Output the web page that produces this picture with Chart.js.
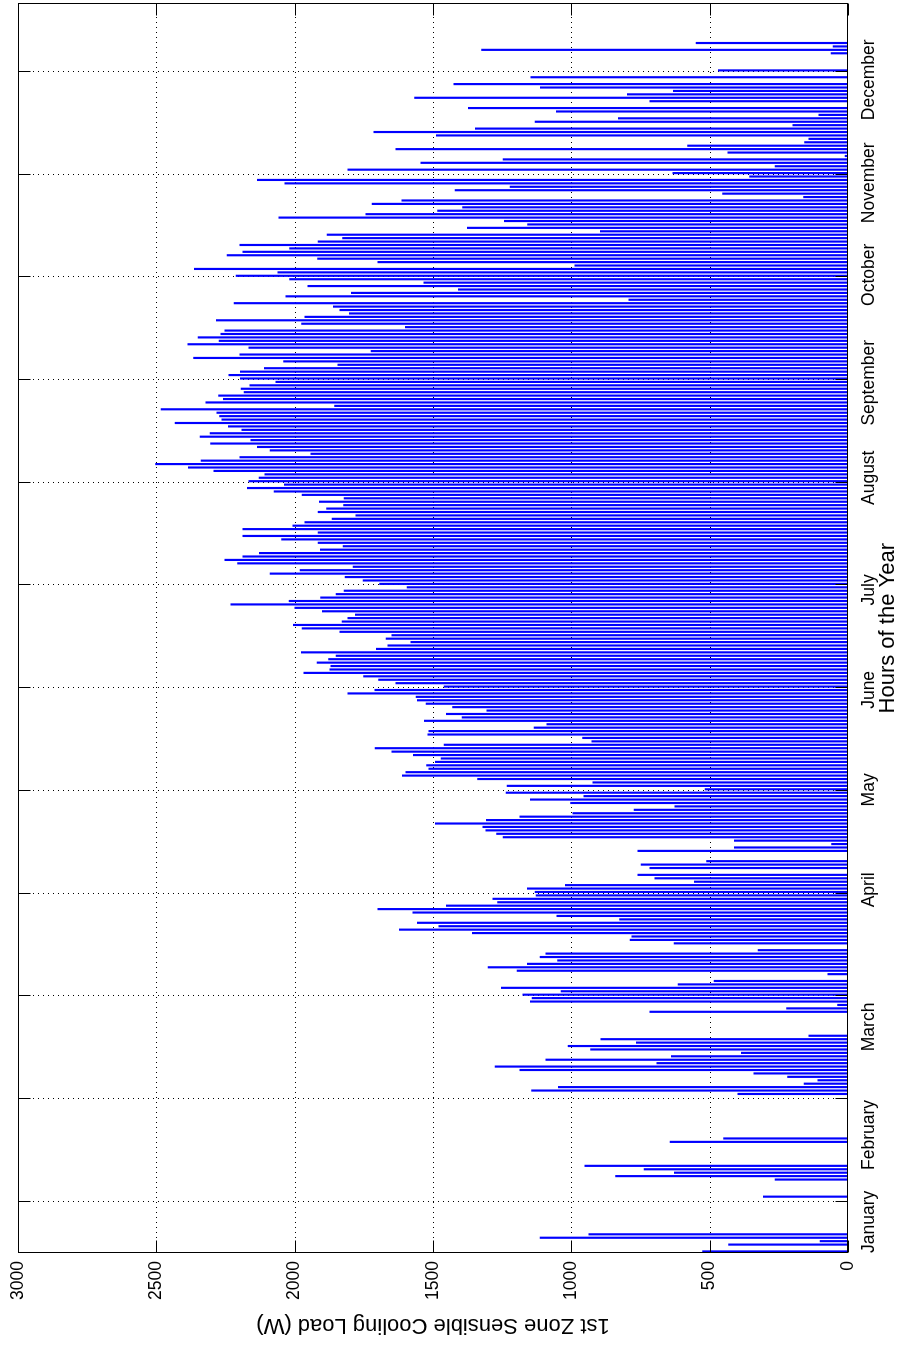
<!DOCTYPE html>
<html><head><meta charset="utf-8">
<script src="https://cdn.jsdelivr.net/npm/chart.js@4.4.0/dist/chart.umd.min.js"></script>
<style>
html,body{margin:0;padding:0;background:#fff;overflow:hidden;}
body{width:899px;height:1346px;position:relative;}
#wrap{position:absolute;left:0;top:0;width:1346px;height:899px;transform-origin:0 0;transform:translate(0,1346px) rotate(-90deg);}
canvas{display:block;}
</style></head><body>
<div id="wrap"><canvas id="c" width="1346" height="899"></canvas></div>
<script>
// daily peak sensible cooling load (W), day 0 = 1 January
const dailyLoad = [
526,0,432,101,1113,937,0,0,0,0,
0,0,0,0,0,0,306,0,0,0,
0,264,840,628,737,951,0,0,0,0,
0,0,643,450,0,0,0,0,0,0,
0,0,0,0,0,0,398,1144,1047,159,
109,218,340,1186,1276,691,1092,639,386,930,
1012,765,893,142,0,0,0,0,0,0,
716,222,38,1148,1142,1175,1037,1253,614,484,
0,73,1196,1301,1159,1050,1113,1092,325,0,
629,788,781,1358,1622,1479,1557,826,1052,1573,
1699,1452,1267,1284,1127,1131,1159,1022,555,698,
760,0,716,748,511,0,0,760,411,59,
411,1247,1270,1309,1320,1492,1307,1186,995,773,
626,1003,1148,955,1236,517,1232,922,1339,1611,
1598,1515,1523,1492,1471,1571,1649,1709,1460,926,
959,1519,1515,1135,1089,1531,1395,1452,1305,1429,
1525,1557,1561,1808,1710,1460,1634,1697,1751,1967,
1873,1869,1919,1877,1850,1976,1705,1663,1580,1670,
1649,1837,1973,2005,1829,1808,1781,1900,1999,2231,
2020,1906,1850,1821,1594,1693,1753,1818,2089,1980,
1789,2206,2252,2187,2128,1907,1825,1915,2047,2187,
1915,2187,2007,1963,1865,1779,1915,1885,1823,1911,
1821,1973,2074,2171,2037,2166,2129,2108,2292,2384,
2503,2338,2198,1942,2089,2135,2304,2158,2342,2306,
2191,2240,2432,2263,2271,2281,2483,1856,2321,2258,
2275,2183,2194,2162,2068,2196,2238,2196,2110,1844,
2040,2365,2198,1724,2166,2386,2273,2349,2267,2252,
1600,1975,2283,1963,1802,1837,1860,2219,792,2032,
1795,1408,1952,1533,2018,2212,2061,2363,987,1699,
1917,2244,2187,2018,2198,1915,1827,1883,895,1376,
1158,1242,2057,1743,1483,1393,1720,1613,161,453,
1420,1221,2036,2135,356,633,1808,264,1544,1247,
11,434,1634,580,157,142,1488,1714,1347,199,
1131,830,105,1054,1372,0,716,1567,798,631,
1112,1425,0,1146,0,469,0,0,0,0,
61,1324,54,549,0,0,0,0,0,0,
0,0,0,0,0
];
const peakHourOfDay = 11;
const hoursPerYear = 8760;
const loadTicks = [0,500,1000,1500,2000,2500,3000];
const loadMax = 3000;
const gridHours = [360,1080,1800,2520,3240,3960,4680,5400,6120,6840,7560,8280];
const monthNames = ['January','February','March','April','May','June','July','August','September','October','November','December'];
const monthLabelHours = [218,828,1585,2546,3247,3948,4649,5435,6101,6858,7503,8225];
const xTitle = 'Hours of the Year';
const yTitle = '1st Zone Sensible Cooling Load (W)';

const FONT = '"Liberation Sans", Arial, Helvetica, sans-serif';

const points = dailyLoad.map((v, d) => ({x: d * 24 + peakHourOfDay, y: v}));

const frame = {
  id: 'frame',
  beforeDatasetsDraw(chart) {
    const {ctx, chartArea: a, scales: {x, y}} = chart;
    ctx.save();
    ctx.strokeStyle = '#000';
    ctx.lineWidth = 1;
    ctx.setLineDash([1, 4]);
    gridHours.forEach(h => {
      const px = Math.round(x.getPixelForValue(h)) + 0.5;
      ctx.beginPath(); ctx.moveTo(px, a.top); ctx.lineTo(px, a.bottom); ctx.stroke();
    });
    loadTicks.forEach(v => {
      if (v <= 0 || v >= loadMax) return;
      const py = Math.round(y.getPixelForValue(v)) + 0.5;
      ctx.beginPath(); ctx.moveTo(a.left, py); ctx.lineTo(a.right, py); ctx.stroke();
    });
    ctx.restore();
  },
  afterDatasetsDraw(chart) {
    const {ctx, chartArea: a, scales: {x, y}} = chart;
    const T = 12;
    ctx.save();
    ctx.strokeStyle = '#000';
    ctx.lineWidth = 1;
    ctx.setLineDash([]);
    const L = Math.round(a.left) + 0.5, R = Math.round(a.right) - 0.5;
    const Tp = Math.round(a.top) + 0.5, B = Math.round(a.bottom) - 0.5;
    ctx.strokeRect(L, Tp, R - L, B - Tp);
    loadTicks.forEach(v => {
      const py = Math.round(y.getPixelForValue(v)) + 0.5;
      ctx.beginPath();
      ctx.moveTo(L, py); ctx.lineTo(L + T, py);
      ctx.moveTo(R, py); ctx.lineTo(R - T, py);
      ctx.stroke();
    });
    gridHours.forEach(h => {
      const px = Math.round(x.getPixelForValue(h)) + 0.5;
      ctx.beginPath();
      ctx.moveTo(px, B); ctx.lineTo(px, B - T);
      ctx.moveTo(px, Tp); ctx.lineTo(px, Tp + T);
      ctx.stroke();
    });
    ctx.fillStyle = '#000';
    ctx.font = '17.5px ' + FONT;
    ctx.textAlign = 'right';
    ctx.textBaseline = 'middle';
    loadTicks.forEach(v => {
      ctx.fillText(String(v), a.left - 8, y.getPixelForValue(v));
    });
    ctx.textAlign = 'center';
    ctx.textBaseline = 'middle';
    monthNames.forEach((m, i) => {
      ctx.fillText(m, x.getPixelForValue(monthLabelHours[i]), a.bottom + 21);
    });
    ctx.font = '22px ' + FONT;
    ctx.fillText(xTitle, (a.left + a.right) / 2, a.bottom + 40);
    ctx.save();
    ctx.translate(21, (a.top + a.bottom) / 2);
    ctx.rotate(-Math.PI / 2);
    ctx.fillText(yTitle, 0, 0);
    ctx.restore();
    ctx.restore();
  }
};

new Chart(document.getElementById('c'), {
  type: 'bar',
  data: {
    datasets: [{
      data: points,
      backgroundColor: '#0000ff',
      borderWidth: 0,
      barThickness: 1.5
    }]
  },
  options: {
    responsive: false,
    animation: false,
    devicePixelRatio: 1,
    layout: {padding: {left: 93, right: 3.5, top: 18, bottom: 51}},
    plugins: {legend: {display: false}, tooltip: {enabled: false}},
    scales: {
      x: {type: 'linear', min: 0, max: hoursPerYear, offset: false, display: false},
      y: {type: 'linear', min: 0, max: loadMax, display: false}
    }
  },
  plugins: [frame]
});
</script>
</body></html>
